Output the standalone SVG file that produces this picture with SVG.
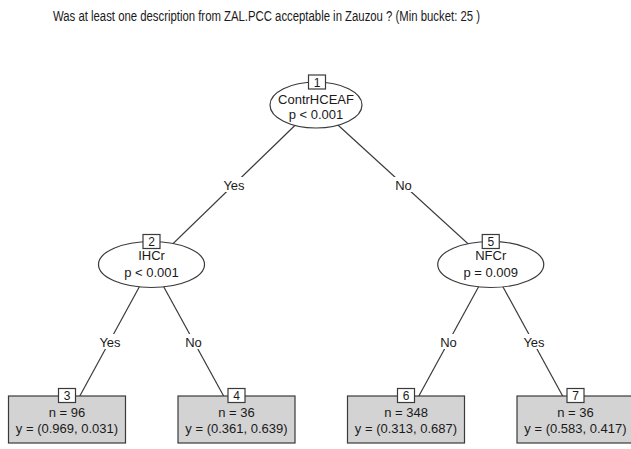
<svg xmlns="http://www.w3.org/2000/svg" width="631" height="449" viewBox="0 0 631 449">
<style>
text{font-family:"Liberation Sans",Arial,Helvetica,sans-serif;fill:#1a1a1a}
.t{font-size:13px}
.d{font-size:12px}
.c{text-anchor:middle}
.edge{stroke:#3a3a3a;stroke-width:1.2;fill:none}
.ell{fill:#fff;stroke:#3a3a3a;stroke-width:1.2}
.leaf{fill:#d3d3d3;stroke:#3a3a3a;stroke-width:1.2}
.id{fill:#fff;stroke:#3a3a3a;stroke-width:1.2}
.lb{fill:#fff}
</style>
<rect width="631" height="449" fill="#fff"/>
<text x="266.5" y="21" class="c" font-size="14" textLength="427" lengthAdjust="spacingAndGlyphs">Was at least one description from  ZAL.PCC acceptable in Zauzou ? (Min bucket: 25 )</text>
<g id="connectors">
<line class="edge" x1="316" y1="105" x2="151.5" y2="264.5"/>
<line class="edge" x1="316" y1="105" x2="490.75" y2="264.5"/>
<line class="edge" x1="151.5" y1="264.5" x2="67" y2="419.5"/>
<line class="edge" x1="151.5" y1="264.5" x2="236.5" y2="419.5"/>
<line class="edge" x1="490.75" y1="264.5" x2="406" y2="419.5"/>
<line class="edge" x1="490.75" y1="264.5" x2="575.5" y2="419.5"/>
<rect class="lb" x="221" y="177" width="26" height="15"/>
<text x="234" y="189.5" class="t c">Yes</text>
<rect class="lb" x="394" y="177" width="19" height="15"/>
<text x="403.5" y="189.5" class="t c">No</text>
<rect class="lb" x="97" y="334" width="26" height="15"/>
<text x="110" y="346.5" class="t c">Yes</text>
<rect class="lb" x="184" y="334" width="19" height="15"/>
<text x="193.5" y="346.5" class="t c">No</text>
<rect class="lb" x="439" y="334" width="19" height="15"/>
<text x="448.5" y="346.5" class="t c">No</text>
<rect class="lb" x="521" y="334" width="26" height="15"/>
<text x="534" y="346.5" class="t c">Yes</text>
</g>
<g id="node1">
<ellipse class="ell" cx="316" cy="105" rx="46" ry="23"/>
<rect class="id" x="308.5" y="75" width="17" height="14"/>
<text x="317" y="86.5" class="d c">1</text>
<text x="316" y="103.5" class="t c">ContrHCEAF</text>
<text x="316" y="118.5" class="t c">p &lt; 0.001</text>
</g>
<g id="node2">
<ellipse class="ell" cx="151.5" cy="264.5" rx="53" ry="23"/>
<rect class="id" x="143" y="234.5" width="17" height="14"/>
<text x="151.5" y="245.5" class="d c">2</text>
<text x="151.5" y="260" class="t c">IHCr</text>
<text x="151.5" y="277" class="t c">p &lt; 0.001</text>
</g>
<g id="node5">
<ellipse class="ell" cx="490.75" cy="264.5" rx="53" ry="23"/>
<rect class="id" x="482.25" y="234.5" width="17" height="14"/>
<text x="490.75" y="245.5" class="d c">5</text>
<text x="490.75" y="260" class="t c">NFCr</text>
<text x="490.75" y="277" class="t c">p = 0.009</text>
</g>
<g id="node3">
<rect class="leaf" x="8.5" y="396" width="117" height="47"/>
<rect class="id" x="58.5" y="388.5" width="17" height="14"/>
<text x="67" y="399.5" class="d c">3</text>
<text x="67" y="417" class="t c">n = 96</text>
<text x="67" y="432.5" class="t c">y = (0.969, 0.031)</text>
</g>
<g id="node4">
<rect class="leaf" x="178" y="396" width="117" height="47"/>
<rect class="id" x="228" y="388.5" width="17" height="14"/>
<text x="236.5" y="399.5" class="d c">4</text>
<text x="236.5" y="417" class="t c">n = 36</text>
<text x="236.5" y="432.5" class="t c">y = (0.361, 0.639)</text>
</g>
<g id="node6">
<rect class="leaf" x="347.5" y="396" width="117" height="47"/>
<rect class="id" x="397.5" y="388.5" width="17" height="14"/>
<text x="406" y="399.5" class="d c">6</text>
<text x="406" y="417" class="t c">n = 348</text>
<text x="406" y="432.5" class="t c">y = (0.313, 0.687)</text>
</g>
<g id="node7">
<rect class="leaf" x="517" y="396" width="117" height="47"/>
<rect class="id" x="567" y="388.5" width="17" height="14"/>
<text x="575.5" y="399.5" class="d c">7</text>
<text x="575.5" y="417" class="t c">n = 36</text>
<text x="575.5" y="432.5" class="t c">y = (0.583, 0.417)</text>
</g>
</svg>
